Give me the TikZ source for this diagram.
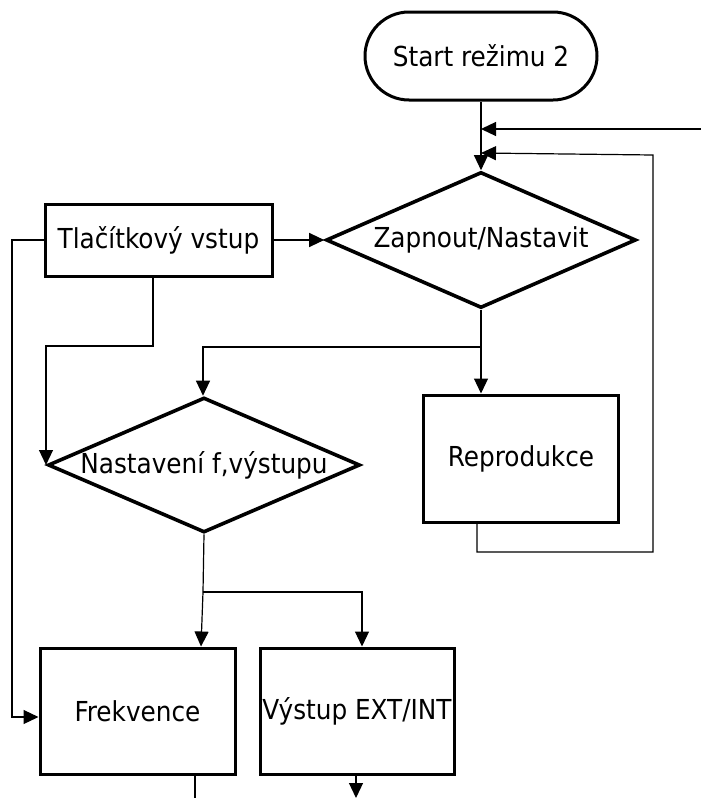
\documentclass[tikz,border=0pt]{standalone}
\usepackage{fontspec}
\setmainfont{DejaVu Sans Condensed}
\usetikzlibrary{shapes.geometric,arrows.meta}
\begin{document}
\begin{tikzpicture}[x=1pt,y=-1pt,
  box/.style={draw,line width=3pt,rectangle,inner sep=0pt,font=\fontsize{27.5}{30}\selectfont},
  term/.style={draw,line width=3pt,rectangle,rounded corners=44pt,inner sep=0pt,minimum width=232pt,minimum height=88pt,font=\fontsize{27.5}{30}\selectfont},
  dia/.style={draw,line width=3.6pt,diamond,aspect=1,inner sep=0pt,font=\fontsize{27.5}{30}\selectfont},
  conn/.style={line width=1.2pt},
  arr/.style={line width=1.2pt,-{Triangle[length=15pt,width=14pt]}}
]
\useasboundingbox (0,0) rectangle (701,798);
\node[term] (start) at (481,56) {Start režimu 2};
\node[dia,minimum width=310pt,minimum height=136pt] (zap) at (481,240) {\makebox[0pt]{Zapnout/Nastavit}};
\node[box,minimum width=227pt,minimum height=72pt] (tl) at (158.5,240) {Tlačítkový vstup};
\node[dia,minimum width=312pt,minimum height=135pt] (nast) at (204,465) {\makebox[0pt]{Nastavení f,výstupu}};
\node[box,minimum width=195pt,minimum height=127pt] (rep) at (521,458.5) {Reprodukce};
\node[box,minimum width=195pt,minimum height=126pt] (frek) at (137.5,711) {Frekvence};
\node[box,minimum width=194pt,minimum height=126pt] (vys) at (357,711) {Výstup EXT/INT};

\coordinate (j1) at (481,129);
\coordinate (e1) at (701,129);
\coordinate (j2) at (481,153);
\coordinate (s1) at (653,155);
\coordinate (j3) at (481,347);
\coordinate (j4) at (203,592);
\coordinate (b1) at (195,798);
\coordinate (b2) at (356,798);

\draw[arr] (start.south) -- (zap.north);
\draw[arr] (e1) -- (j1);
\draw[arr] (rep.south -| 477,0) -- (477,552) -- (653,552) -- (s1) -- (j2);
\draw[arr] (tl.east) -- (zap.west);
\draw[arr] (tl.west) -- (12,240) -- (12,717) -- (frek.west |- 0,717);
\draw[arr] (153,276) -- (153,346) -- (46,346) -- (46,465);
\draw[conn] (zap.south) -- (j3);
\draw[arr] (j3) -- (rep.north -| j3);
\draw[arr] (j3) -| (nast.north -| 203,0);
\draw[conn] (nast.south) -- (j4);
\draw[arr] (j4) -- (frek.north -| 201,0);
\draw[arr] (j4) -| (vys.north -| 362,0);
\draw[conn] (frek.south -| b1) -- (b1);
\draw[arr] (vys.south -| b2) -- (b2);
\end{tikzpicture}
\end{document}
